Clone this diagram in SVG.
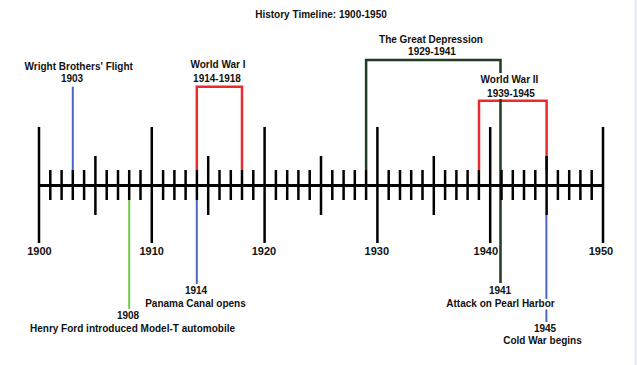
<svg xmlns="http://www.w3.org/2000/svg" width="637" height="365" viewBox="0 0 637 365">
<defs>
<style>
text{font-family:"Liberation Sans",Arial,sans-serif;font-weight:bold;font-size:10px;fill:#111;text-anchor:middle}
.yr{font-size:11px}
.tick{stroke:#000;stroke-width:2.5;fill:none}
.axis{stroke:#000;stroke-width:3}
.red{stroke:#ea2a2e;stroke-width:2.5;fill:none}
.blue{stroke:#4a68c4;stroke-width:2;fill:none}
.lgreen{stroke:#74c84a;stroke-width:2;fill:none}
.dgreen{stroke:#1f3b22;stroke-width:2.5;fill:none}
</style>
</defs>
<rect width="637" height="365" fill="#fff"/>
<line x1="635.5" y1="0" x2="635.5" y2="365" stroke="#e2eaf6" stroke-width="2"/>
<text x="321" y="17.5">History Timeline: 1900-1950</text>

<g id="connectors">
<path class="red" d="M196.8,170V86.7H242V170"/>
<path class="red" d="M479,170V100.7H546.6V170"/>
<path class="dgreen" d="M366.1,170V60H500.5V283"/>
<line class="blue" x1="72.8" y1="86.7" x2="72.8" y2="170"/>
<line class="lgreen" x1="129.2" y1="200" x2="129.2" y2="309"/>
<line class="blue" x1="196.8" y1="200" x2="196.8" y2="284"/>
<line class="blue" x1="546.4" y1="215" x2="546.4" y2="322"/>
</g>

<g id="axis">
<line class="axis" x1="39" y1="185.5" x2="603" y2="185.5"/>
<path class="tick" d="M39,127V243M151.8,127V243M264.6,127V243M377.4,127V243M490.2,127V243M603,127V243"/>
<path class="tick" d="M95.4,156V215M208.2,156V215M321,156V215M433.8,156V215M546.6,156V215"/>
<path class="tick" d="M50.3,170V200M61.6,170V200M72.8,170V200M84.1,170V200M106.7,170V200M118,170V200M129.2,170V200M140.5,170V200M163.1,170V200M174.4,170V200M185.6,170V200M196.9,170V200M219.5,170V200M230.8,170V200M242,170V200M253.3,170V200M275.9,170V200M287.2,170V200M298.4,170V200M309.7,170V200M332.3,170V200M343.6,170V200M354.8,170V200M366.1,170V200M388.7,170V200M400,170V200M411.2,170V200M422.5,170V200M445.1,170V200M456.4,170V200M467.6,170V200M478.9,170V200M501.5,170V200M512.8,170V200M524,170V200M535.3,170V200M557.9,170V200M569.2,170V200M580.4,170V200M591.7,170V200"/>
<text class="yr" x="39.5" y="255">1900</text>
<text class="yr" x="151.7" y="255">1910</text>
<text class="yr" x="264" y="255">1920</text>
<text class="yr" x="376.8" y="255">1930</text>
<text class="yr" x="485.8" y="255">1940</text>
<text class="yr" x="601" y="255">1950</text>
</g>

<g id="wright">
<text x="78.7" y="70">Wright Brothers' Flight</text>
<text x="72" y="82">1903</text>
</g>
<g id="ww1">
<text x="218" y="68">World War I</text>
<text x="217" y="81.7">1914-1918</text>
</g>
<g id="depression">
<text x="431" y="43.3">The Great Depression</text>
<text x="432" y="55">1929-1941</text>
</g>
<g id="ww2">
<rect x="479" y="73" width="62" height="26" fill="#fff"/>
<text x="509.5" y="82.7">World War II</text>
<text x="511" y="96.7">1939-1945</text>
</g>
<g id="ford">
<text x="128" y="319">1908</text>
<text x="132.5" y="331.7">Henry Ford introduced Model-T automobile</text>
</g>
<g id="panama">
<text x="196" y="294">1914</text>
<text x="195.5" y="306.7">Panama Canal opens</text>
</g>
<g id="pearl">
<text x="500" y="294.3">1941</text>
<rect x="445" y="299" width="111" height="10.5" fill="#fff"/>
<text x="500.5" y="306.7">Attack on Pearl Harbor</text>
</g>
<g id="coldwar">
<text x="545" y="331.7">1945</text>
<text x="542.5" y="344">Cold War begins</text>
</g>
</svg>
